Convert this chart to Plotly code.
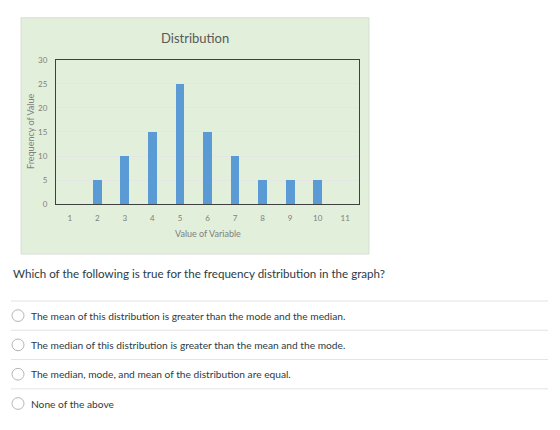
import plotly.graph_objects as go

categories = [1, 2, 3, 4, 5, 6, 7, 8, 9, 10, 11]
frequencies = [0, 5, 10, 15, 25, 15, 10, 5, 5, 5, 0]
y_ticks = [0, 5, 10, 15, 20, 25, 30]
chart_title = "Distribution"
x_title = "Value of Variable"
y_title = "Frequency of Value"
question = "Which of the following is true for the frequency distribution in the graph?"
options = [
    "The mean of this distribution is greater than the mode and the median.",
    "The median of this distribution is greater than the mean and the mode.",
    "The median, mode, and mean of the distribution are equal.",
    "None of the above",
]

W, H = 560, 430
def px(x):
    return x / W
def py(y):
    return 1 - y / H

fig = go.Figure()
fig.add_trace(go.Bar(
    x=categories, y=frequencies, width=0.32,
    marker=dict(color="#5B9BD5", line=dict(width=0)),
    hoverinfo="x+y",
))

chart_font = "Lato, 'Open Sans', sans-serif"
tick_col = "#7f7f7f"

fig.update_layout(
    width=W, height=H,
    margin=dict(l=0, r=0, t=0, b=0),
    paper_bgcolor="white",
    plot_bgcolor="white",
    showlegend=False,
    bargap=0,
    xaxis=dict(
        domain=[px(56), px(359)],
        range=[0.5, 11.5],
        tickmode="array", tickvals=categories, ticktext=[str(c) for c in categories],
        tickfont=dict(family=chart_font, size=8, color=tick_col),
        showgrid=False, zeroline=False,
        showline=True, linecolor="#404040", linewidth=1, mirror=True,
        ticks="", ticklabelstandoff=6,
        fixedrange=True,
    ),
    yaxis=dict(
        domain=[py(204), py(56)],
        range=[0, 30],
        tickmode="array", tickvals=y_ticks,
        tickfont=dict(family=chart_font, size=8, color=tick_col),
        showgrid=True, gridcolor="#E6E6E6", gridwidth=1, zeroline=False,
        showline=True, linecolor="#404040", linewidth=1, mirror=True,
        ticks="", ticklabelstandoff=6,
        fixedrange=True,
    ),
)

shapes = [
    dict(type="rect", xref="paper", yref="paper", layer="below",
         x0=px(21), x1=px(369), y0=py(255), y1=py(13),
         fillcolor="#E2EFDA", line=dict(color="#D9DED6", width=1)),
]
# separators
for sy in [303, 333, 363, 393]:
    shapes.append(dict(type="line", xref="paper", yref="paper",
                       x0=px(11), x1=px(548), y0=py(sy), y1=py(sy),
                       line=dict(color="#E3E3E3", width=1)))
# radio circles
for i in range(len(options)):
    cy = 318 + 30 * i
    shapes.append(dict(type="circle", xref="paper", yref="paper",
                       x0=px(12), x1=px(24), y0=py(cy + 6), y1=py(cy - 6),
                       fillcolor="white", line=dict(color="#B5B5B5", width=1)))
fig.update_layout(shapes=shapes)

annotations = [
    dict(text=chart_title, x=px(195), y=py(34), xref="paper", yref="paper",
         showarrow=False, xanchor="center", yanchor="middle",
         font=dict(family=chart_font, size=13, color="#595959")),
    dict(text=x_title, x=px(208), y=py(234), xref="paper", yref="paper",
         showarrow=False, xanchor="center", yanchor="middle",
         font=dict(family=chart_font, size=9, color=tick_col)),
    dict(text=y_title, x=px(31), y=py(130), xref="paper", yref="paper",
         showarrow=False, xanchor="center", yanchor="middle", textangle=-90,
         font=dict(family=chart_font, size=9, color=tick_col)),
    dict(text=question, x=px(11), y=py(275), xref="paper", yref="paper",
         showarrow=False, xanchor="left", yanchor="middle",
         font=dict(family="Lato, sans-serif", size=11.6, color="#2D3B45")),
]
for i, opt in enumerate(options):
    annotations.append(dict(text=opt, x=px(29), y=py(318 + 30 * i), xref="paper", yref="paper",
                            showarrow=False, xanchor="left", yanchor="middle",
                            font=dict(family="Lato, sans-serif", size=10.2, color="#2D3B45")))
fig.update_layout(annotations=annotations)

fig.write_html("out.html")
